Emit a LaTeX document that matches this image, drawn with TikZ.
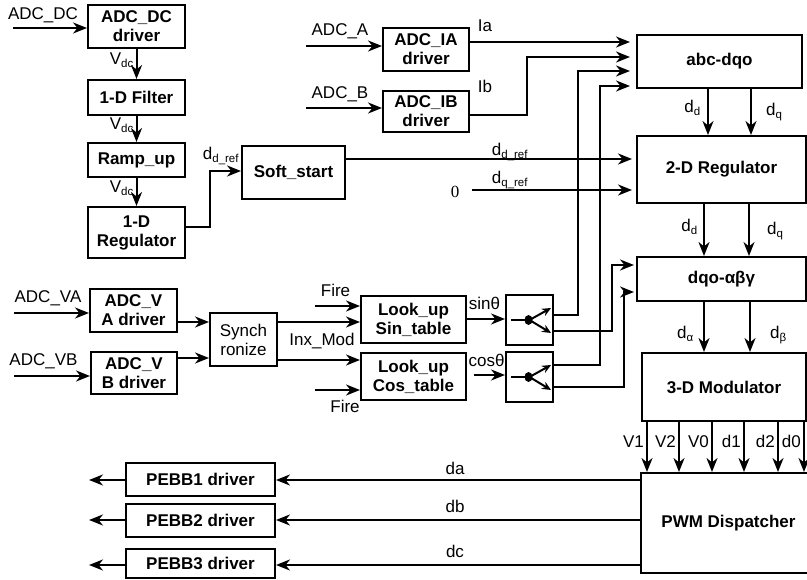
\documentclass[tikz,border=0pt]{standalone}
\usepackage{fontspec}
\setmainfont{Liberation Sans}
\newfontfamily\zerofont{Liberation Serif}
\usetikzlibrary{arrows.meta}
\newcommand\sbs[1]{\textsubscript{\fontsize{11.5}{12}\selectfont #1}}
\tikzset{
  blk/.style={draw,line width=2pt,font=\fontsize{17}{19}\selectfont\bfseries,align=center,inner sep=1pt},
  plain blk/.style={draw,line width=2pt,align=center,inner sep=1pt},
  sz/.style 2 args={minimum width=#1pt,minimum height=#2pt},
  sig/.style={line width=2pt,->},
  wire/.style={line width=2pt},
  small tip/.style={-{Stealth[length=9pt,width=8pt,inset=3pt]}},
  lbl/.style={inner sep=0pt,anchor=base}
}

\begin{document}
\begin{tikzpicture}[x=1pt,y=-1pt,>={Stealth[length=14pt,width=11pt,inset=4.5pt]},font=\fontsize{17}{19}\selectfont]
  \useasboundingbox (0,0) rectangle (807,580);
  % DC link chain
  \node[blk,sz={97}{43}] (dcdrv) at (136.5,26.5) {ADC\_DC\\driver};
  \node[blk,sz={97}{35}] (filt) at (136.5,97.5) {1-D Filter};
  \node[blk,sz={97}{34}] (ramp) at (136.5,160) {Ramp\_up};
  \node[blk,sz={97}{51}] (reg1) at (136.5,232.5) {1-D\\Regulator};
  \node[blk,sz={103}{53}] (soft) at (293.5,172.5) {Soft\_start};
  % current sensing
  \node[blk,sz={86}{43}] (iadrv) at (426,49.5) {ADC\_IA\\driver};
  \node[blk,sz={86}{41}] (ibdrv) at (426,111.5) {ADC\_IB\\driver};
  % control column
  \node[blk,sz={165}{53}] (abc) at (719.5,61.5) {abc-dqo};
  \node[blk,sz={169}{67}] (reg2) at (721.5,169.5) {2-D Regulator};
  \node[blk,sz={169}{44}] (dqo) at (721.5,279) {dqo-αβγ};
  \node[blk,sz={164}{68}] (mod) at (724,387) {3-D Modulator};
  \node[blk,sz={175}{100}] (pwm) at (728.5,523) {PWM Dispatcher};
  % voltage sensing and tables
  \node[blk,sz={87}{43}] (vadrv) at (133.5,310.5) {ADC\_V\\A driver};
  \node[blk,sz={86}{42}] (vbdrv) at (134,373) {ADC\_V\\B driver};
  \node[plain blk,sz={67}{53}] (sync) at (243.5,339.5) {Synch\\ronize};
  \node[blk,sz={105}{47}] (sintab) at (413.5,319.5) {Look\_up\\Sin\_table};
  \node[blk,sz={105}{47}] (costab) at (413.5,376.5) {Look\_up\\Cos\_table};
  \node[plain blk,sz={47}{50}] (sw1) at (529.5,320) {};
  \node[plain blk,sz={47}{50}] (sw2) at (529.5,377) {};
  \foreach \i/\y/\h in {1/479.5/33,2/520.5/33,3/563.5/29}
    \node[blk,sz={149}{\h}] (pebb\i) at (200.5,\y) {PEBB\i\ driver};

  \coordinate (dcin) at (13,28);
  \coordinate (ain) at (306,46);
  \coordinate (bin) at (306,108);
  \coordinate (vain) at (14,313);
  \coordinate (vbin) at (14,376);
  \coordinate (fire1) at (315,306);
  \coordinate (fire2) at (315,390);
  \node[lbl] (zero) at (455,198) {\zerofont 0};

  % labels
  \node[lbl] (ldc) at (43,19.3) {ADC\_DC};
  \foreach \y [count=\k] in {65,130,193}
    \node[lbl,anchor=base east] (vdc\k) at (134,\y) {V\sbs{dc}};
  \node[lbl] (lddref) at (221,160) {d\sbs{d\_ref}};
  \node[lbl] (la) at (340,36) {ADC\_A};
  \node[lbl] (lb) at (340,99) {ADC\_B};
  \node[lbl] (lia) at (485,31.7) {Ia};
  \node[lbl] (lib) at (485,93) {Ib};
  \node[lbl] (lddref2) at (510,156) {d\sbs{d\_ref}};
  \node[lbl] (ldqref) at (510,184) {d\sbs{q\_ref}};
  \node[lbl,anchor=base east] (ldd1) at (701,113) {d\sbs{d}};
  \node[lbl,anchor=base west] (ldq1) at (766,116) {d\sbs{q}};
  \node[lbl,anchor=base east] (ldd2) at (698,232) {d\sbs{d}};
  \node[lbl,anchor=base west] (ldq2) at (767,235) {d\sbs{q}};
  \node[lbl,anchor=base east] (lal) at (694,339) {d\sbs{α}};
  \node[lbl,anchor=base west] (lbe) at (770,339) {d\sbs{β}};
  \node[lbl] (lva) at (48,303) {ADC\_VA};
  \node[lbl] (lvb) at (43.5,366) {ADC\_VB};
  \node[lbl] (lfire1) at (335.5,297) {Fire};
  \node[lbl] (lfire2) at (345,413) {Fire};
  \node[lbl] (linx) at (322,346) {Inx\_Mod};
  \node[lbl] (lsin) at (484.5,310) {sinθ};
  \node[lbl] (lcos) at (486.5,367) {cosθ};

  % DC link connectors
  \draw[sig] (dcin) -- (dcin -| dcdrv.west);
  \draw[sig] (dcdrv) -- (filt);
  \draw[sig] (filt) -- (ramp);
  \draw[sig] (ramp) -- (reg1);
  \draw[sig] (reg1.east |- 0,227) -- ++(24,0) |- (soft.west |- 0,171);
  \draw[sig,shorten >=4pt] (soft.east |- 0,159) -- (reg2.west |- 0,159);
  \draw[sig,shorten <=13pt,shorten >=4pt] (zero.east |- 0,190) -- (reg2.west |- 0,190);

  % currents
  \draw[sig] (ain) -- (ain -| iadrv.west);
  \draw[sig] (bin) -- (bin -| ibdrv.west);
  \draw[sig,shorten >=6pt] (iadrv.east |- 0,42) -- (abc.west |- 0,42);
  \draw[sig,shorten >=6pt] (ibdrv.east |- 0,115) -- ++(57,0) |- (abc.west |- 0,57);

  % control column
  \foreach \x in {708,751}
    \draw[sig] (abc.south -| \x,0) -- (reg2.north -| \x,0);
  \foreach \x in {704,749}
    \draw[sig] (reg2.south -| \x,0) -- (dqo.north -| \x,0);
  \foreach \x in {704,750}
    \draw[sig] (dqo.south -| \x,0) -- (mod.north -| \x,0);
  \foreach \x/\t in {647/V1,679/V2,712/V0,744/d1,778/d2,804/d0}{
    \draw[sig] (mod.south -| \x,0) -- (pwm.north -| \x,0);
    \node[lbl,anchor=base east] (l\t) at (\x-3,448) {\t};
  }

  % dispatcher outputs
  \foreach \i/\y/\b/\t in {1/480/475/da,2/520/512/db,3/565/557/dc}{
    \coordinate (out\i) at (89,\y);
    \draw[sig] (pwm.west |- 0,\y) -- (pebb\i.east |- 0,\y);
    \draw[sig] (pebb\i.west |- 0,\y) -- (out\i);
    \node[lbl] (l\t) at (455,\b) {\t};
  }

  % voltages and tables
  \draw[sig] (vain) -- (vain -| vadrv.west);
  \draw[sig] (vbin) -- (vbin -| vbdrv.west);
  \draw[sig] (vadrv.east |- 0,322) -- (sync.west |- 0,322);
  \draw[sig] (vbdrv.east |- 0,358) -- (sync.west |- 0,358);
  \draw[sig] (sync.east |- 0,322) -- (sintab.west |- 0,322);
  \draw[sig] (sync.east |- 0,360) -- (costab.west |- 0,360);
  \draw[sig] (fire1) -- (fire1 -| sintab.west);
  \draw[sig] (fire2) -- (fire2 -| costab.west);
  \draw[sig] (sintab.east |- 0,319) -- (sw1.west |- 0,319);
  \draw[sig,shorten <=7pt] (costab.east |- 0,375) -- (sw2.west |- 0,375);

  % switches
  \foreach \s in {sw1,sw2}{
    \fill ([xshift=-1pt]\s.center) ellipse (4pt and 5pt);
    \draw[wire] ([xshift=6pt]\s.west) -- (\s.center);
    \draw[wire,small tip] (\s.center) -- ([xshift=-3pt,yshift=12pt]\s.east);
    \draw[wire,small tip] (\s.center) -- ([xshift=-3pt,yshift=-13pt]\s.east);
  }
  \draw[sig,shorten >=6pt] (sw1.east |- 0,315) -- ++(24,0) |- (abc.west |- 0,71);
  \draw[sig,shorten >=2pt] (sw1.east |- 0,331) -- ++(58,0) |- (dqo.west |- 0,265);
  \draw[sig,shorten >=6pt] (sw2.east |- 0,365) -- ++(46,0) |- (abc.west |- 0,86);
  \draw[sig,shorten >=2pt] (sw2.east |- 0,387) -- ++(70,0) |- (dqo.west |- 0,292);
\end{tikzpicture}
\end{document}
